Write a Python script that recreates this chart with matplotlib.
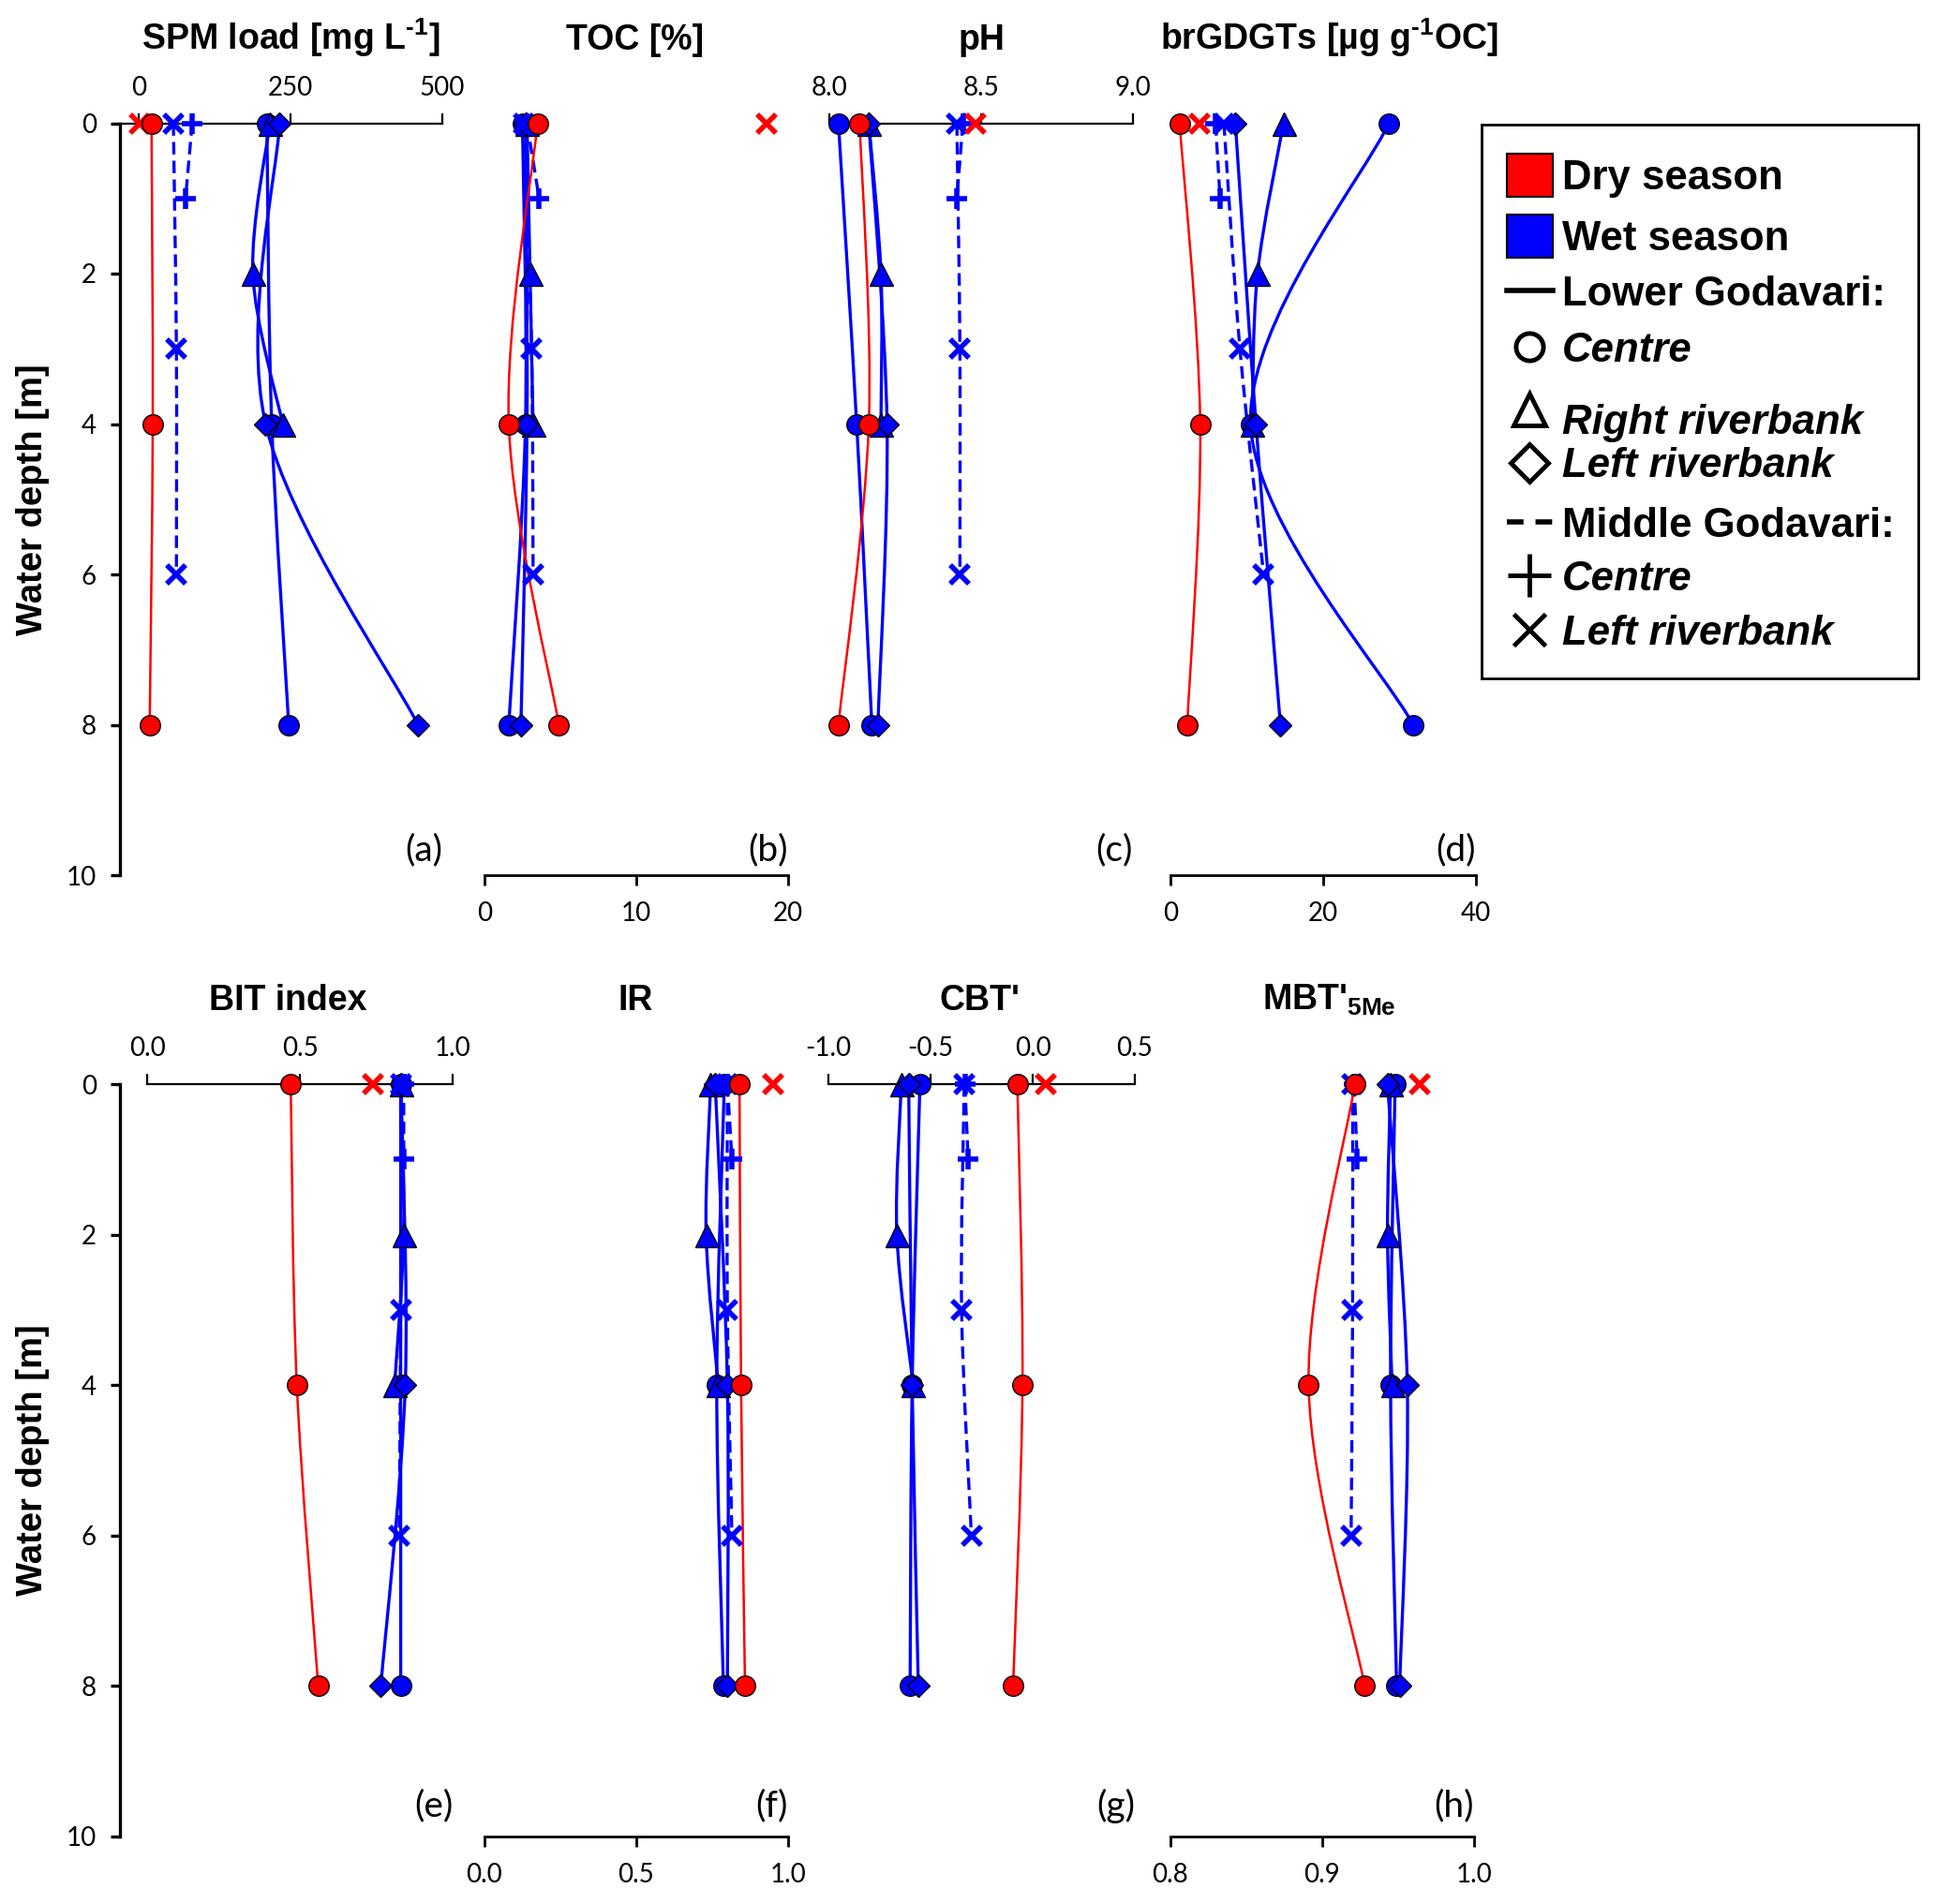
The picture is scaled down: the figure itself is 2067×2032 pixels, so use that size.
import numpy as np
import matplotlib
matplotlib.use("Agg")
import matplotlib.pyplot as plt
from matplotlib.path import Path
from matplotlib.patches import PathPatch, Rectangle
from matplotlib.ticker import FormatStrFormatter

plt.rcParams['font.family'] = ['Lato', 'DejaVu Sans']
plt.rcParams['axes.unicode_minus'] = False
plt.rcParams['mathtext.fontset'] = 'custom'
plt.rcParams['mathtext.rm'] = 'Liberation Sans:bold'
plt.rcParams['mathtext.bf'] = 'Liberation Sans:bold'
plt.rcParams['mathtext.it'] = 'Liberation Sans:bold'
plt.rcParams['mathtext.default'] = 'bf'

# sampling depths [m]
depth_centre = [0, 4, 8]
depth_right = [0, 2, 4]
depth_left = [0, 4, 8]
depth_mid_centre = [0, 1]
depth_mid_left = [0, 3, 6]
depth_dry_mid = [0]

# (a) SPM load
spm_dry_centre = [21, 23, 18]
spm_dry_mid_left = [2]
spm_wet_centre = [211, 219, 247]
spm_wet_right = [216, 188, 237]
spm_wet_left = [232, 209, 460]
spm_wet_mid_centre = [88, 77]
spm_wet_mid_left = [57, 62, 62]

# (b) TOC
toc_dry_centre = [3.5, 1.6, 4.9]
toc_dry_mid_left = [18.6]
toc_wet_centre = [2.5, 2.7, 1.6]
toc_wet_right = [2.8, 3.0, 3.2]
toc_wet_left = [2.7, 2.8, 2.4]
toc_wet_mid_centre = [2.8, 3.6]
toc_wet_mid_left = [2.6, 3.1, 3.2]

# (c) pH
ph_dry_centre = [8.10, 8.13, 8.03]
ph_dry_mid_left = [8.48]
ph_wet_centre = [8.03, 8.09, 8.14]
ph_wet_right = [8.13, 8.17, 8.17]
ph_wet_left = [8.13, 8.19, 8.16]
ph_wet_mid_centre = [8.44, 8.42]
ph_wet_mid_left = [8.42, 8.43, 8.43]

# (d) brGDGTs
gd_dry_centre = [1.2, 3.9, 2.2]
gd_dry_mid_left = [3.8]
gd_wet_centre = [28.6, 10.5, 31.8]
gd_wet_right = [14.8, 11.4, 10.7]
gd_wet_left = [8.5, 11.2, 14.4]
gd_wet_mid_centre = [5.9, 6.5]
gd_wet_mid_left = [7.0, 9.1, 12.2]

# (e) BIT index
bit_dry_centre = [0.47, 0.49, 0.56]
bit_dry_mid_left = [0.74]
bit_wet_centre = [0.83, 0.83, 0.83]
bit_wet_right = [0.83, 0.84, 0.81]
bit_wet_left = [0.83, 0.845, 0.765]
bit_wet_mid_centre = [0.84, 0.84]
bit_wet_mid_left = [0.83, 0.83, 0.825]

# (f) IR
ir_dry_centre = [0.84, 0.845, 0.858]
ir_dry_mid_left = [0.95]
ir_wet_centre = [0.79, 0.765, 0.787]
ir_wet_right = [0.745, 0.73, 0.77]
ir_wet_left = [0.76, 0.80, 0.80]
ir_wet_mid_centre = [0.80, 0.815]
ir_wet_mid_left = [0.80, 0.80, 0.815]

# (g) CBT'
cbt_dry_centre = [-0.075, -0.05, -0.096]
cbt_dry_mid_left = [0.063]
cbt_wet_centre = [-0.552, -0.59, -0.60]
cbt_wet_right = [-0.643, -0.665, -0.585]
cbt_wet_left = [-0.607, -0.59, -0.56]
cbt_wet_mid_centre = [-0.332, -0.316]
cbt_wet_mid_left = [-0.335, -0.348, -0.30]

# (h) MBT'5Me
mbt_dry_centre = [0.9215, 0.891, 0.928]
mbt_dry_mid_left = [0.964]
mbt_wet_centre = [0.948, 0.945, 0.949]
mbt_wet_right = [0.945, 0.943, 0.946]
mbt_wet_left = [0.943, 0.956, 0.951]
mbt_wet_mid_centre = [0.921, 0.923]
mbt_wet_mid_left = [0.920, 0.920, 0.919]

titles = [r'SPM load [mg L$^{\text{-1}}$]', 'TOC [%]', 'pH', r'brGDGTs [µg g$^{\text{-1}}$OC]',
          'BIT index', 'IR', "CBT'", r"MBT'$_{\text{5Me}}$"]
panel_tags = ['(a)', '(b)', '(c)', '(d)', '(e)', '(f)', '(g)', '(h)']

RED = '#FF0000'
BLUE = '#0000FF'
W, H = 2067, 2032


def smooth_path(x, y):
    # Excel-like smoothed line: cubic bezier through the points
    pts = np.column_stack([np.asarray(x, float), np.asarray(y, float)])
    n = len(pts)
    verts = [pts[0]]
    codes = [Path.MOVETO]
    for i in range(n - 1):
        p0 = pts[max(i - 1, 0)]
        p1 = pts[i]
        p2 = pts[i + 1]
        p3 = pts[min(i + 2, n - 1)]
        verts += [p1 + (p2 - p0) / 6.0, p2 - (p3 - p1) / 6.0, p2]
        codes += [Path.CURVE4] * 3
    return Path(verts, codes)


def draw_series(ax, x, y, color, marker, ls='-', lw=2.4, ms=15.5, mew=1.0, edge='black', z=3):
    if len(x) > 1:
        ax.add_patch(PathPatch(smooth_path(x, y), fill=False, edgecolor=color,
                               lw=lw, linestyle=ls, zorder=2, capstyle='butt'))
    if marker in ('x', '+'):
        ax.plot(x, y, ls='none', marker=marker, color=color, ms=ms, mew=mew,
                clip_on=False, zorder=z)
    else:
        ax.plot(x, y, ls='none', marker=marker, mfc=color, mec=edge, ms=ms, mew=mew,
                clip_on=False, zorder=z)


def draw_panel(ax, dry_c, dry_ml, wet_c, wet_r, wet_l, wet_mc, wet_ml):
    dash = (0, (4, 2))
    draw_series(ax, wet_c, depth_centre, BLUE, 'o', ms=15.5)
    draw_series(ax, wet_r, depth_right, BLUE, '^', ms=18)
    draw_series(ax, wet_l, depth_left, BLUE, 'D', ms=12.5)
    draw_series(ax, wet_mc, depth_mid_centre, BLUE, '+', ls=dash, ms=16, mew=4)
    draw_series(ax, wet_ml, depth_mid_left, BLUE, 'x', ls=dash, ms=14, mew=4)
    draw_series(ax, dry_ml, depth_dry_mid, RED, 'x', ms=14, mew=4)
    draw_series(ax, dry_c, depth_centre, RED, 'o', lw=1.8, ms=15.5, z=4)


fig = plt.figure(figsize=(W / 100, H / 100), dpi=100)

# panel geometry in pixels: (left px, right px, xmin, xmax, ticks, fmt, top axis?, spine bounds)
rows_px = [(131.5, 934), (1157, 1960)]
panels = [
    (128, 472, -31, 500, [0, 250, 500], '%d', True, (-31, 500)),
    (517, 841, 0, 20, [0, 10, 20], '%d', False, None),
    (885, 1209, 8.0, 9.0, [8.0, 8.5, 9.0], '%.1f', True, None),
    (1249, 1575, 0, 40, [0, 20, 40], '%d', False, None),
    (128, 483, -0.089, 1.0, [0.0, 0.5, 1.0], '%.1f', True, (0, 1.0)),
    (517, 841, 0.0, 1.0, [0.0, 0.5, 1.0], '%.1f', False, None),
    (884, 1211, -1.0, 0.5, [-1.0, -0.5, 0.0, 0.5], '%.1f', True, None),
    (1249, 1573, 0.8, 1.0, [0.8, 0.9, 1.0], '%.1f', False, None),
]
title_x = [310, 678, 1047, 1418, 307, 678, 1046, 1418]
title_base = [53, 1078]
tag_depth = [9.67, 9.59]

data = [
    (spm_dry_centre, spm_dry_mid_left, spm_wet_centre, spm_wet_right, spm_wet_left, spm_wet_mid_centre, spm_wet_mid_left),
    (toc_dry_centre, toc_dry_mid_left, toc_wet_centre, toc_wet_right, toc_wet_left, toc_wet_mid_centre, toc_wet_mid_left),
    (ph_dry_centre, ph_dry_mid_left, ph_wet_centre, ph_wet_right, ph_wet_left, ph_wet_mid_centre, ph_wet_mid_left),
    (gd_dry_centre, gd_dry_mid_left, gd_wet_centre, gd_wet_right, gd_wet_left, gd_wet_mid_centre, gd_wet_mid_left),
    (bit_dry_centre, bit_dry_mid_left, bit_wet_centre, bit_wet_right, bit_wet_left, bit_wet_mid_centre, bit_wet_mid_left),
    (ir_dry_centre, ir_dry_mid_left, ir_wet_centre, ir_wet_right, ir_wet_left, ir_wet_mid_centre, ir_wet_mid_left),
    (cbt_dry_centre, cbt_dry_mid_left, cbt_wet_centre, cbt_wet_right, cbt_wet_left, cbt_wet_mid_centre, cbt_wet_mid_left),
    (mbt_dry_centre, mbt_dry_mid_left, mbt_wet_centre, mbt_wet_right, mbt_wet_left, mbt_wet_mid_centre, mbt_wet_mid_left),
]

for i, (lpx, rpx, xmin, xmax, ticks, fmt, top, bounds) in enumerate(panels):
    row = i // 4
    ytop, ybot = rows_px[row]
    ax = fig.add_axes([lpx / W, 1 - ybot / H, (rpx - lpx) / W, (ybot - ytop) / H])
    ax.set_xlim(xmin, xmax)
    ax.set_ylim(10, 0)
    ax.patch.set_alpha(0)
    for s in ax.spines.values():
        s.set_visible(False)
    draw_panel(ax, *data[i])

    ax.set_xticks(ticks)
    ax.xaxis.set_major_formatter(FormatStrFormatter(fmt))
    if top:
        ax.spines['top'].set_visible(True)
        ax.spines['top'].set_linewidth(1.6)
        if bounds is not None:
            ax.spines['top'].set_bounds(*bounds)
        ax.tick_params(axis='x', top=True, bottom=False, labeltop=True, labelbottom=False,
                       direction='out', length=8, width=1.6, labelsize=20, pad=10)
    else:
        ax.spines['bottom'].set_visible(True)
        ax.spines['bottom'].set_linewidth(2.0)
        ax.tick_params(axis='x', top=False, bottom=True, labeltop=False, labelbottom=True,
                       direction='out', length=8, width=2.0, labelsize=20, pad=12)

    if i % 4 == 0:
        ax.spines['left'].set_visible(True)
        ax.spines['left'].set_linewidth(2.4)
        ax.spines['left'].set_position(('data', xmin))
        ax.set_yticks([0, 2, 4, 6, 8, 10])
        ax.tick_params(axis='y', left=True, direction='out', length=7, width=2.4,
                       labelsize=20, pad=11)
        fig.text(35 / W, 1 - (ytop + ybot) / 2 / H, 'Water depth [m]', rotation=90,
                 ha='center', va='center', fontsize=27.5, fontweight='bold',
                 family='Liberation Sans')
    else:
        ax.set_yticks([])

    ax.text(xmax, tag_depth[row], panel_tags[i], ha='right', va='center', fontsize=28)
    fig.text(title_x[i] / W, 1 - title_base[row] / H, titles[i], ha='center', va='baseline',
             fontsize=27, fontweight='bold', family='Liberation Sans')

# legend box, laid out in pixel units
lax = fig.add_axes([1581 / W, 1 - 724 / H, (2047 - 1581) / W, (724 - 133) / H])
lax.set_xlim(1581, 2047)
lax.set_ylim(724, 133)
lax.set_xticks([])
lax.set_yticks([])
for s in lax.spines.values():
    s.set_linewidth(2.0)

leg_font = dict(fontsize=31.5, family='Liberation Sans', fontweight='bold', va='baseline')
tx = 1667
lax.add_patch(Rectangle((1608, 164), 49, 46, facecolor=RED, edgecolor='black', lw=1.5))
lax.text(tx, 186 + 16, 'Dry season', **leg_font)
lax.add_patch(Rectangle((1608, 229), 49, 46, facecolor=BLUE, edgecolor='black', lw=1.5))
lax.text(tx, 251 + 16, 'Wet season', **leg_font)
lax.plot([1608, 1657], [310, 310], color='black', lw=4)
lax.text(tx, 310 + 16, 'Lower Godavari:', **leg_font)
lax.plot([1632], [370], marker='o', mfc='none', mec='black', ms=21, mew=3.5, ls='none')
lax.text(tx, 370 + 16, 'Centre', style='italic', **leg_font)
lax.plot([1632], [437], marker='^', mfc='none', mec='black', ms=24, mew=3.5, ls='none')
lax.text(tx, 447 + 16, 'Right riverbank', style='italic', **leg_font)
lax.plot([1632], [494], marker='D', mfc='none', mec='black', ms=20, mew=3.5, ls='none')
lax.text(tx, 493 + 16, 'Left riverbank', style='italic', **leg_font)
lax.plot([1608, 1657], [557, 557], color='black', lw=4, ls=(0, (3.2, 2.3)))
lax.text(tx, 557 + 16, 'Middle Godavari:', **leg_font)
lax.plot([1632], [614], marker='+', color='black', ms=33, mew=3.5, ls='none')
lax.text(tx, 614 + 16, 'Centre', style='italic', **leg_font)
lax.plot([1632], [672], marker='x', color='black', ms=24, mew=3.5, ls='none')
lax.text(tx, 672 + 16, 'Left riverbank', style='italic', **leg_font)

fig.savefig('out.png', dpi=100)
